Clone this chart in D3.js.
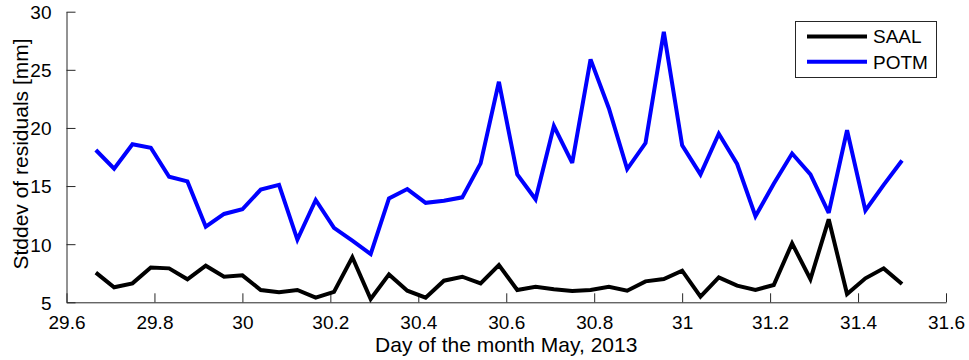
<!DOCTYPE html>
<html>
<head>
<meta charset="utf-8">
<script src="https://cdn.jsdelivr.net/npm/d3@7"></script>
<style>
  html, body { margin: 0; padding: 0; background: #fff; }
  svg { display: block; font-family: "Liberation Sans", Arial, Helvetica, sans-serif; }
</style>
</head>
<body>
<svg id="chart" width="969" height="360"></svg>
<script>
// Hourly epochs (day of May 2013)
const days = [29.6667, 29.7083, 29.75, 29.7917, 29.8333, 29.875, 29.9167, 29.9583,
  30, 30.0417, 30.0833, 30.125, 30.1667, 30.2083, 30.25, 30.2917, 30.3333, 30.375,
  30.4167, 30.4583, 30.5, 30.5417, 30.5833, 30.625, 30.6667, 30.7083, 30.75, 30.7917,
  30.8333, 30.875, 30.9167, 30.9583, 31, 31.0417, 31.0833, 31.125, 31.1667, 31.2083,
  31.25, 31.2917, 31.3333, 31.375, 31.4167, 31.4583, 31.5];

// Stddev of residuals [mm], per station
const saal = [7.55, 6.29, 6.63, 8.0, 7.92, 6.98, 8.15, 7.2, 7.32, 6.06,
  5.86, 6.06, 5.4, 5.89, 8.87, 5.28, 7.4, 6.0, 5.4, 6.86,
  7.2, 6.63, 8.2, 6.06, 6.34, 6.12, 5.97, 6.06, 6.34, 6.0,
  6.8, 7.0, 7.72, 5.48, 7.15, 6.43, 6.06, 6.49, 10.07, 6.98,
  12.14, 5.71, 7.06, 7.92, 6.57];
const potm = [18.1, 16.5, 18.6, 18.3, 15.8, 15.4, 11.5, 12.6, 13.0, 14.7,
  15.1, 10.4, 13.8, 11.4, 10.3, 9.15, 13.94, 14.74, 13.56, 13.74,
  14.03, 16.95, 23.97, 16.0, 13.86, 20.16, 17.0, 25.9, 21.7, 16.46,
  18.7, 28.27, 18.5, 16.0, 19.5, 16.9, 12.4, 15.2, 17.8, 16.0,
  12.7, 19.8, 12.9, 15.1, 17.2];

const xTicks = [29.6, 29.8, 30, 30.2, 30.4, 30.6, 30.8, 31, 31.2, 31.4, 31.6];
const yTicks = [5, 10, 15, 20, 25, 30];

const seriesNames = ["SAAL", "POTM"];
const seriesColors = ["#000000", "#0000ff"];

const svg = d3.select("#chart");
const plotLeft = 66.5, plotRight = 946, plotTop = 11.7, plotBottom = 302.3;

const x = d3.scaleLinear().domain([29.6, 31.6]).range([plotLeft, plotRight]);
const y = d3.scaleLinear().domain([5, 30]).range([plotBottom, plotTop]);

// Axes with inward ticks
const xAxis = d3.axisBottom(x).tickValues(xTicks).tickSizeInner(-9).tickSizeOuter(0)
  .tickPadding(16).tickFormat(d3.format("~g"));
const yAxis = d3.axisLeft(y).tickValues(yTicks).tickSizeInner(-9).tickSizeOuter(0)
  .tickPadding(15).tickFormat(d3.format("~g"));

const gx = svg.append("g").attr("transform", `translate(0,${plotBottom})`).call(xAxis);
const gy = svg.append("g").attr("transform", `translate(${plotLeft},0)`).call(yAxis);
[gx, gy].forEach(g => {
  g.select(".domain").attr("stroke", "#262626").attr("stroke-width", 1);
  g.selectAll(".tick line").attr("stroke", "#262626").attr("stroke-width", 1);
  g.selectAll(".tick text").attr("fill", "#000").style("font-size", "19px")
    .style("font-family", "'Liberation Sans', Arial, sans-serif");
});
gx.selectAll(".tick text").attr("dy", "0.55em");
gy.selectAll(".tick text").attr("dy", "0.36em");

// Series lines
const line = d3.line().x((d, i) => x(days[i])).y(d => y(d));
[saal, potm].forEach((vals, k) => {
  svg.append("path")
    .datum(vals)
    .attr("d", line)
    .attr("fill", "none")
    .attr("stroke", seriesColors[k])
    .attr("stroke-width", 4)
    .attr("stroke-linejoin", "miter")
    .attr("stroke-miterlimit", 3);
});

// Axis titles
svg.append("text")
  .attr("x", (plotLeft + plotRight) / 2).attr("y", 352)
  .attr("text-anchor", "middle")
  .style("font-size", "21px")
  .text("Day of the month May, 2013");

svg.append("text")
  .attr("transform", `translate(28,${(plotTop + plotBottom) / 2 - 3}) rotate(-90)`)
  .attr("text-anchor", "middle")
  .style("font-size", "21px")
  .text("Stddev of residuals [mm]");

// Legend
const lg = svg.append("g");
lg.append("rect")
  .attr("x", 795.5).attr("y", 21.5).attr("width", 141).attr("height", 56)
  .attr("fill", "#fff").attr("stroke", "#262626").attr("stroke-width", 1);
seriesNames.forEach((name, k) => {
  const cy = 36.5 + k * 25.3;
  lg.append("line")
    .attr("x1", 807).attr("x2", 867).attr("y1", cy).attr("y2", cy)
    .attr("stroke", seriesColors[k]).attr("stroke-width", 4);
  lg.append("text")
    .attr("x", 873).attr("y", cy + 6.8)
    .style("font-size", "19px")
    .text(name);
});
</script>
</body>
</html>
